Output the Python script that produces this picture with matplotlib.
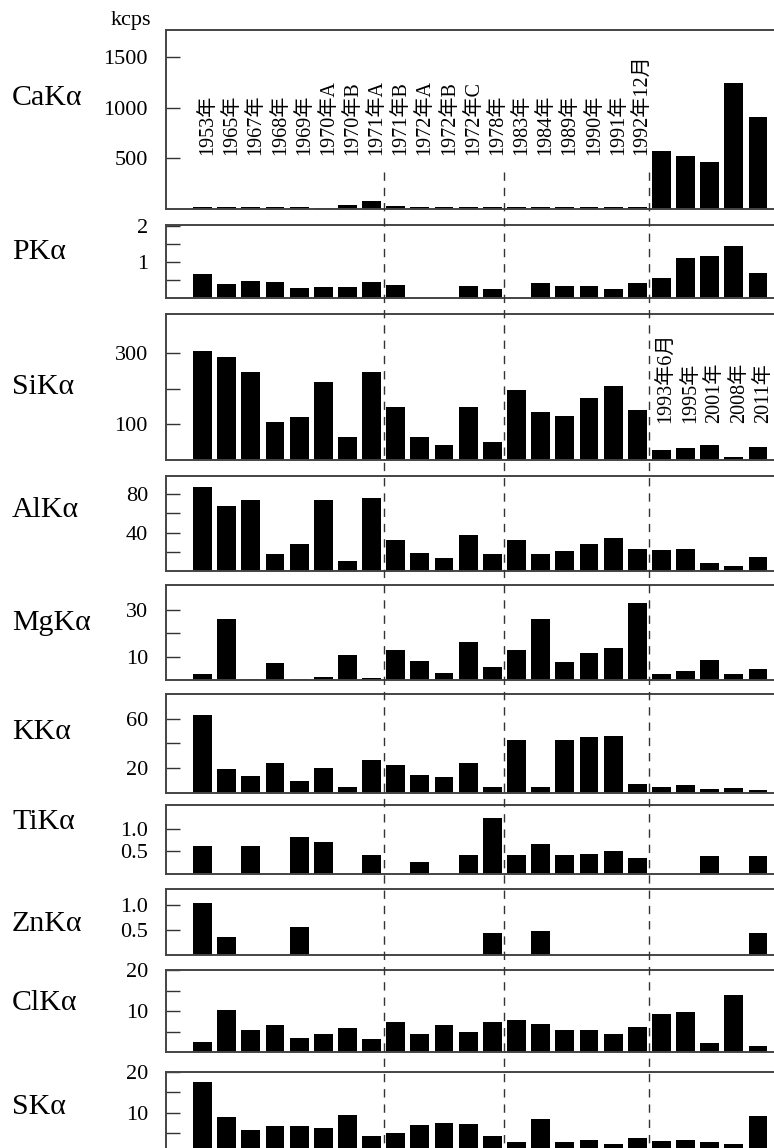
import matplotlib
matplotlib.use("Agg")
import matplotlib.pyplot as plt
from matplotlib.lines import Line2D
import numpy as np

# sample labels (one bar each)
samples = ['1953年', '1965年', '1967年', '1968年', '1969年', '1970年A', '1970年B', '1971年A',
           '1971年B', '1972年A', '1972年B', '1972年C', '1978年', '1983年', '1984年', '1989年',
           '1990年', '1991年', '1992年12月', '1993年6月', '1995年', '2001年', '2008年', '2011年']

# intensities in kcps
ca = [20, 20, 20, 20, 20, 13, 40, 80, 25, 22, 16, 20, 20, 20, 20, 20, 20, 20, 16, 574, 528, 462, 1245, 904]
p = [0.67, 0.38, 0.47, 0.43, 0.26, 0.31, 0.29, 0.43, 0.35, 0, 0, 0.33, 0.25, 0, 0.40, 0.34,
     0.32, 0.24, 0.41, 0.56, 1.12, 1.16, 1.45, 0.69]
si = [306, 289, 247, 107, 121, 218, 64, 247, 147, 63, 40, 147, 50, 197, 135, 123, 175, 208,
      139, 26, 33, 41, 6, 35]
al = [88, 68, 74, 17.5, 28, 74, 10, 76, 32, 19, 13, 37, 17.5, 32.5, 18, 21, 28, 34, 23, 21.7,
      22.4, 8, 5, 14]
mg = [2.7, 26.3, 0.6, 7.4, 0.5, 1.4, 10.6, 0.9, 12.9, 8.2, 3.1, 16.4, 5.7, 12.7, 26.3, 7.9,
      11.4, 13.7, 33, 2.7, 3.7, 8.4, 2.4, 4.7]
k = [63, 19, 13.3, 23.8, 9.7, 20.2, 4.9, 26.7, 22.7, 14, 12.7, 24.3, 4.9, 42.4, 4.9, 42.4, 45,
     46, 7.3, 4.9, 6.2, 3.2, 3.5, 2.4]
ti = [0.62, 0, 0.62, 0, 0.81, 0.71, 0, 0.43, 0, 0.27, 0, 0.42, 1.23, 0.42, 0.66, 0.42, 0.45,
      0.51, 0.36, 0, 0, 0.39, 0, 0.39]
zn = [1.03, 0.35, 0, 0, 0.55, 0, 0, 0, 0, 0, 0, 0, 0.44, 0, 0.47, 0, 0, 0, 0, 0, 0, 0, 0, 0.43]
cl = [2.4, 10.3, 5.3, 6.6, 3.5, 4.5, 6.0, 3.3, 7.3, 4.5, 6.6, 5.0, 7.3, 7.8, 6.9, 5.5, 5.5,
      4.5, 6.2, 9.2, 9.9, 2.3, 14, 1.5]
s = [17.6, 9.0, 5.9, 6.7, 6.7, 6.3, 9.4, 4.4, 5.0, 7.0, 7.6, 7.3, 4.4, 3.0, 8.6, 2.8, 3.3,
     2.5, 4.0, 3.2, 3.3, 2.8, 2.5, 9.3]

names = ['CaKα', 'PKα', 'SiKα', 'AlKα', 'MgKα', 'KKα', 'TiKα', 'ZnKα', 'ClKα', 'SKα']
series = [ca, p, si, al, mg, k, ti, zn, cl, s]
yticks = [[500, 1000, 1500], [0.5, 1, 1.5, 2], [100, 200, 300], [20, 40, 60, 80], [10, 20, 30],
          [20, 40, 60], [0.5, 1.0], [0.5, 1.0], [5, 10, 15, 20], [5, 10, 15, 20]]
ytlabels = [['500', '1000', '1500'], ['', '1', '', '2'], ['100', '', '300'], ['', '40', '', '80'],
            ['10', '', '30'], ['20', '', '60'], ['0.5', '1.0'], ['0.5', '1.0'],
            ['', '10', '', '20'], ['', '10', '', '20']]

# layout (pixels from the top of the 774x1148 image)
W, H = 774, 1148
boxes = [(30, 209), (225, 297.7), (314, 459.5), (475.7, 570.7), (585, 680), (694, 792.7),
         (805.3, 874.3), (889.3, 955), (970, 1052.3), (1071.7, 1154)]
ymaxs = [1767, 2.04, 411, 99.5, 40.8, 80, 1.51, 1.31, 20, 20]
name_y = [98, 252, 387, 510, 623, 732, 822, 924, 1003, 1107]

serif = 'Liberation Serif'
mixed = ['Liberation Serif', 'Noto Sans CJK JP']
x = np.arange(len(samples))

fig = plt.figure(figsize=(W / 100, H / 100), dpi=100)

axes = []
for i, vals in enumerate(series):
    top, bot = boxes[i]
    ax = fig.add_axes([166 / W, 1 - bot / H, 1 - 166 / W, (bot - top) / H])
    ax.bar(x, vals, width=0.78, color='black', linewidth=0)
    ax.set_xlim(-1.51, 23.66)
    ax.set_ylim(0, ymaxs[i])
    ax.set_xticks([])
    ax.set_yticks(yticks[i])
    ax.set_yticklabels(ytlabels[i], fontfamily=serif, fontsize=16)
    ax.tick_params(axis='y', direction='in', length=10, width=1, pad=13, color='#333333')
    ax.spines['right'].set_visible(False)
    for sp in ['top', 'left', 'bottom']:
        ax.spines[sp].set_linewidth(1.4)
        ax.spines[sp].set_color('#444444')
    fig.text(12 / W, 1 - name_y[i] / H, names[i], fontsize=21.5, family=serif,
             ha='left', va='center')
    axes.append(ax)

# sample names, rotated, first 19 in the CaKa panel, the rest in SiKa
for i, lab in enumerate(samples):
    if i < 19:
        axes[0].text(i + 0.22, 533, lab, rotation=90, ha='center', va='bottom',
                     fontsize=14.5, family=mixed)
    else:
        axes[2].text(i + 0.22, 102, lab, rotation=90, ha='center', va='bottom',
                     fontsize=14.5, family=mixed)

fig.text(131 / W, 1 - 20 / H, 'kcps', ha='center', va='center', fontsize=16, family=serif)

# dashed separators between groups
for b in [7.5, 12.5, 18.5]:
    xf = axes[0].transData.transform((b, 0))[0] / fig.bbox.width
    fig.add_artist(Line2D([xf, xf], [1 - 172 / H, 0], transform=fig.transFigure,
                          color='#333333', linewidth=1, linestyle=(0, (6, 5))))

plt.savefig('out.png', dpi=100)
